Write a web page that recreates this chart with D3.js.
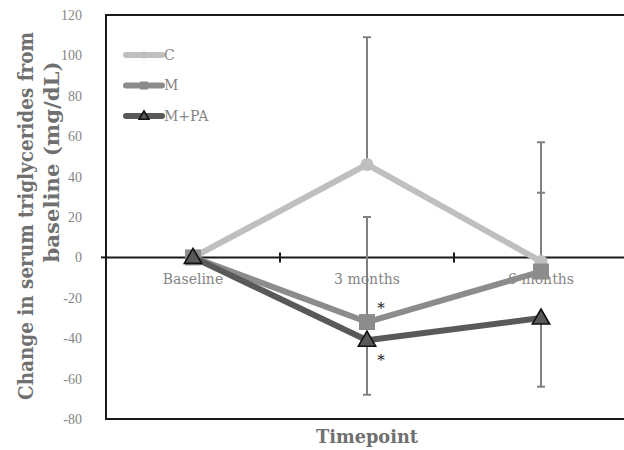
<!DOCTYPE html>
<html><head><meta charset="utf-8">
<script src="https://cdn.jsdelivr.net/npm/d3@7"></script>
<style>body{margin:0;background:#fff}svg{display:block}</style>
</head><body>
<svg id="c" width="624" height="450"></svg>
<script>
const categories = ["Baseline", "3 months", "6 months"];
const yTicks = [-80, -60, -40, -20, 0, 20, 40, 60, 80, 100, 120];
const seriesNames = ["C", "M", "M+PA"];
const cValues = [0, 46, -2];
const mValues = [0, -32, -7];
const mpaValues = [0, -41, -30];
const cErrPlus = [0, 63, 59];
const mErrPlus = [0, 52, 39];
const mpaErrMinus = [0, 27, 34];
const stars = [{cat: "3 months", v: -23}, {cat: "3 months", v: -49}];

const svg = d3.select("#c");
const L = 106, R = 628, T = 15, B = 419;
const x = d3.scaleBand().domain(categories).range([L, R]);
const xc = d => x(d) + x.bandwidth() / 2;
const y = d3.scaleLinear().domain([-80, 120]).range([B, T]);
const serif = "'DejaVu Serif', serif";
const serif2 = "'Liberation Serif', serif";

const colors = {"C": "#bfbfbf", "M": "#8c8c8c", "M+PA": "#595959"};
const series = [
  {name: "C", values: cValues, err: cErrPlus, dir: 1},
  {name: "M", values: mValues, err: mErrPlus, dir: 1},
  {name: "M+PA", values: mpaValues, err: mpaErrMinus, dir: -1}
];

// plot box
svg.append("rect").attr("x", L).attr("y", T).attr("width", R - L).attr("height", B - T)
  .attr("fill", "none").attr("stroke", "#1a1a1a").attr("stroke-width", 2);

// y tick labels
svg.append("g").selectAll("text").data(yTicks).join("text")
  .attr("x", 82).attr("y", d => y(d)).attr("dy", "0.35em")
  .attr("text-anchor", "end").attr("font-family", serif2).attr("font-size", 14)
  .attr("fill", "#858585").text(d => d);

// zero axis with cross ticks
svg.append("line").attr("x1", L).attr("x2", R).attr("y1", y(0)).attr("y2", y(0))
  .attr("stroke", "#1a1a1a").attr("stroke-width", 2);
svg.append("line").attr("x1", L - 5).attr("x2", L).attr("y1", y(0)).attr("y2", y(0))
  .attr("stroke", "#1a1a1a").attr("stroke-width", 2);
const bounds = categories.slice(1).map(c => x(c));
svg.append("g").selectAll("line").data(bounds).join("line")
  .attr("x1", d => d).attr("x2", d => d).attr("y1", y(0) - 5).attr("y2", y(0) + 5)
  .attr("stroke", "#1a1a1a").attr("stroke-width", 2);

// x category labels
svg.append("g").selectAll("text").data(categories).join("text")
  .attr("x", d => xc(d)).attr("y", y(0) + 22).attr("dy", "0.35em")
  .attr("text-anchor", "middle").attr("font-family", serif).attr("font-size", 14)
  .attr("fill", "#858585").text(d => d);

// error bars
series.forEach(s => {
  const g = svg.append("g");
  s.values.forEach((v, i) => {
    if (!s.err[i]) return;
    const cx = xc(categories[i]);
    const end = v + s.dir * s.err[i];
    g.append("line").attr("x1", cx).attr("x2", cx).attr("y1", y(v)).attr("y2", y(end))
      .attr("stroke", "#808080").attr("stroke-width", 2);
    g.append("line").attr("x1", cx - 4).attr("x2", cx + 4).attr("y1", y(end)).attr("y2", y(end))
      .attr("stroke", "#808080").attr("stroke-width", 2);
  });
});

// lines + markers
const line = d3.line().x((d, i) => xc(categories[i])).y(d => y(d));
const tri = d3.symbol().type(d3.symbolTriangle).size(130);
series.forEach(s => {
  svg.append("path").attr("d", line(s.values)).attr("fill", "none")
    .attr("stroke", colors[s.name]).attr("stroke-width", 6).attr("stroke-linejoin", "round");
  const g = svg.append("g");
  s.values.forEach((v, i) => {
    const cx = xc(categories[i]), cy = y(v);
    if (s.name === "C") {
      g.append("circle").attr("cx", cx).attr("cy", cy).attr("r", 6.5).attr("fill", colors.C);
    } else if (s.name === "M") {
      g.append("rect").attr("x", cx - 8).attr("y", cy - 8).attr("width", 16).attr("height", 16)
        .attr("fill", colors.M);
    } else {
      g.append("path").attr("d", tri()).attr("transform", `translate(${cx},${cy + 1})`)
        .attr("fill", colors["M+PA"]).attr("stroke", "#111").attr("stroke-width", 1.6);
    }
  });
});

// asterisks
svg.append("g").selectAll("text").data(stars).join("text")
  .attr("x", d => xc(d.cat) + 14).attr("y", d => y(d.v)).attr("dy", "0.6em")
  .attr("text-anchor", "middle").attr("font-family", serif).attr("font-size", 15)
  .attr("fill", "#222").text("*");

// legend
const lg = svg.append("g");
seriesNames.forEach((n, i) => {
  const ly = 55 + i * 30.5;
  lg.append("line").attr("x1", 126).attr("x2", 162).attr("y1", ly).attr("y2", ly)
    .attr("stroke", colors[n]).attr("stroke-width", 6).attr("stroke-linecap", "round");
  if (n === "C") lg.append("circle").attr("cx", 144).attr("cy", ly).attr("r", 3.5).attr("fill", colors.C);
  else if (n === "M") lg.append("rect").attr("x", 140).attr("y", ly - 4).attr("width", 8).attr("height", 8).attr("fill", colors.M);
  else lg.append("path").attr("d", d3.symbol().type(d3.symbolTriangle).size(40)())
    .attr("transform", `translate(144,${ly + 0.5})`).attr("fill", colors["M+PA"])
    .attr("stroke", "#111").attr("stroke-width", 1.6);
  lg.append("text").attr("x", 164).attr("y", ly).attr("dy", "0.35em")
    .attr("font-family", serif).attr("font-size", 14).attr("fill", "#858585").text(n);
});

// axis titles
const titleAttrs = sel => sel.attr("text-anchor", "middle").attr("font-family", serif)
  .attr("font-weight", "bold").attr("font-stretch", "condensed").attr("fill", "#707070")
  .attr("lengthAdjust", "spacingAndGlyphs").attr("dy", "0.35em");
svg.append("text").attr("x", 367).attr("y", 437).call(titleAttrs)
  .attr("font-size", 18).attr("textLength", 102).text("Timepoint");
svg.append("text").attr("transform", "translate(26,216) rotate(-90)").call(titleAttrs)
  .attr("font-size", 20).attr("textLength", 368).text("Change in serum triglycerides from");
svg.append("text").attr("transform", "translate(52,162) rotate(-90)").call(titleAttrs)
  .attr("font-size", 20).attr("textLength", 201).text("baseline (mg/dL)");
</script>
</body></html>
